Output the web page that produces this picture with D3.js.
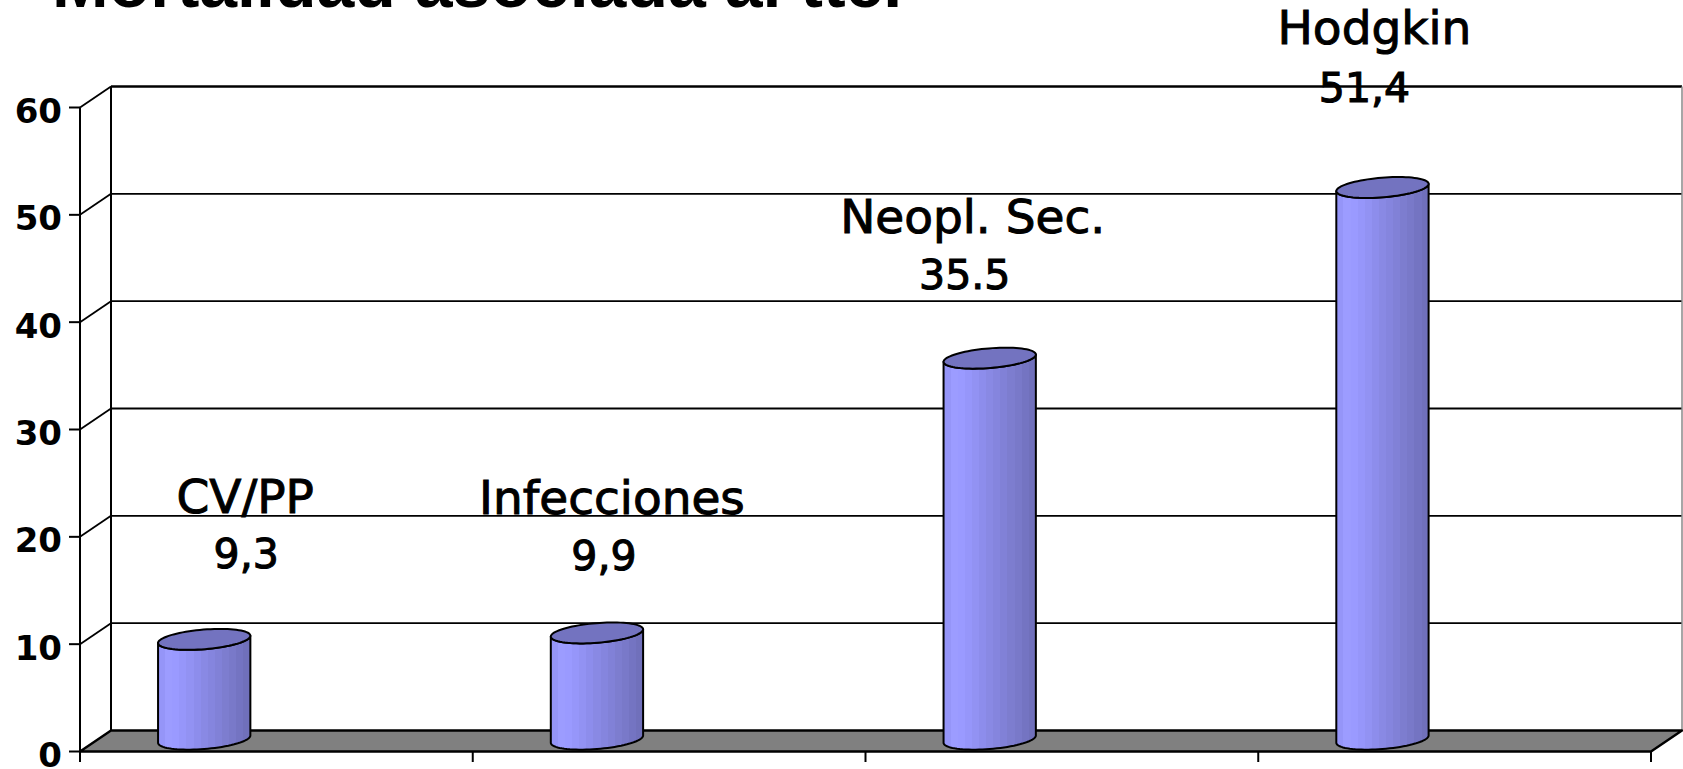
<!DOCTYPE html>
<html>
<head>
<meta charset="utf-8">
<script src="https://cdn.jsdelivr.net/npm/d3@7"></script>
<style>
  html, body { margin: 0; padding: 0; background: #ffffff; overflow: hidden; }
  svg { display: block; }
</style>
</head>
<body>
<svg id="chart" width="1683" height="769"></svg>
<script>
// ---------------- data ----------------
const categories = ["CV/PP", "Infecciones", "Neopl. Sec.", "Hodgkin"];
const values = [9.3, 9.9, 35.5, 51.4];
const valueLabels = ["9,3", "9,9", "35.5", "51,4"];
const yTicks = [0, 10, 20, 30, 40, 50, 60];
const titleText = "Mortalidad asociada al ttc.";

// ---------------- layout ----------------
const W = 1683, H = 769;
const frontL = 80, frontR = 1651;
const depthDX = 31, depthDY = -21;          // oblique offset of the back wall
const barDepth = 0.586;                      // bar axis position inside the depth
const barRX = 46.3, barRY = 9.8, barTilt = -4.7 * Math.PI / 180;
// manual label placement (nudges relative to bar centre / bar top), like the dragged Excel labels
const labelNudge = [
  { nx: 41, ny: -126, vx: 42, vy: -71 },
  { nx: 15, ny: -119, vx: 7,  vy: -63 },
  { nx: -17, ny: -125, vx: -25, vy: -69 },
  { nx: -8, ny: -144, vx: -18, vy: -86 }
];

const svg = d3.select("#chart");

const y = d3.scaleLinear().domain([0, 60]).range([751.5, 107.5]);
const x = d3.scaleBand().domain(categories).range([frontL, frontR]).padding(0);
const P = (xv, v, d) => [xv + d * depthDX, y(v) + d * depthDY];

// gradient for cylinder bodies (banded like the original)
const defs = svg.append("defs");
const grad = defs.append("linearGradient").attr("id", "cyl").attr("x1", 0).attr("x2", 1).attr("y1", 0).attr("y2", 0);
const bands = ["#9595f8", "#9c9cff", "#9a9aff", "#9696fa", "#9292f3", "#8d8dec", "#8989e4",
               "#8585de", "#8181d7", "#7d7dcf", "#7979c9", "#7474c2", "#7070bb"];
bands.forEach((c, k) => {
  grad.append("stop").attr("offset", k / bands.length).attr("stop-color", c);
  grad.append("stop").attr("offset", (k + 1) / bands.length).attr("stop-color", c);
});

// ---------------- walls ----------------
const wall = svg.append("g");
yTicks.forEach(v => {
  if (v > 0) {
    const a = P(frontL, v, 0), b = P(frontL, v, 1), c = P(frontR, v, 1);
    wall.append("line").attr("x1", a[0]).attr("y1", a[1]).attr("x2", b[0]).attr("y2", b[1])
      .attr("stroke", "#000").attr("stroke-width", 1.8);
    wall.append("line").attr("x1", b[0]).attr("y1", b[1]).attr("x2", c[0]).attr("y2", c[1])
      .attr("stroke", "#000").attr("stroke-width", v === 60 ? 2.6 : 1.8);
  }
});
{
  const a = P(frontL, 0, 1), b = P(frontL, 60, 1);
  wall.append("line").attr("x1", a[0]).attr("y1", a[1]).attr("x2", b[0]).attr("y2", b[1])
    .attr("stroke", "#000").attr("stroke-width", 2);
  const c = P(frontR, 0, 1), d = P(frontR, 60, 1);
  wall.append("line").attr("x1", c[0]).attr("y1", c[1]).attr("x2", d[0]).attr("y2", d[1])
    .attr("stroke", "#888").attr("stroke-width", 1.5);
}
{
  const pts = [P(frontL, 0, 0), P(frontR, 0, 0), P(frontR, 0, 1), P(frontL, 0, 1)];
  wall.append("polygon").attr("points", pts.map(p => p.join(",")).join(" "))
    .attr("fill", "#808080").attr("stroke", "#000").attr("stroke-width", 2.4)
    .attr("stroke-linejoin", "round");
}

// ---------------- cylinders ----------------
const cosT = Math.cos(barTilt), sinT = Math.sin(barTilt);
function ellPt(cx, cy, t) {
  const c = Math.cos(t), s = Math.sin(t);
  return [cx + barRX * c * cosT - barRY * s * sinT, cy + barRX * c * sinT + barRY * s * cosT];
}
const t0 = Math.atan(-(barRY * sinT) / (barRX * cosT));
const N = 40;
const lineGen = d3.line();
const bars = svg.append("g");
categories.forEach((cat, i) => {
  const cx = x(cat) + x.bandwidth() * 0.27 + barDepth * depthDX;
  const yb = y(0) + barDepth * depthDY;
  const yt = y(values[i]) + barDepth * depthDY;
  const body = [];
  body.push(ellPt(cx, yt, t0 + Math.PI));
  for (let k = 0; k <= N; k++) body.push(ellPt(cx, yb, t0 + Math.PI - Math.PI * k / N));
  for (let k = 0; k <= N; k++) body.push(ellPt(cx, yt, t0 + Math.PI * k / N));
  bars.append("path").attr("d", lineGen(body) + "Z")
    .attr("fill", "url(#cyl)").attr("stroke", "#000").attr("stroke-width", 2)
    .attr("stroke-linejoin", "round");
  const top = [];
  for (let k = 0; k <= 2 * N; k++) top.push(ellPt(cx, yt, Math.PI * k / N));
  bars.append("path").attr("d", lineGen(top) + "Z")
    .attr("fill", "#7373c0").attr("stroke", "#000").attr("stroke-width", 2);

  const nd = labelNudge[i];
  bars.append("text").attr("x", cx + nd.nx).attr("y", yt + nd.ny)
    .attr("text-anchor", "middle").attr("font-family", "DejaVu Sans")
    .attr("font-size", 47).attr("fill", "#000")
    .attr("stroke", "#000").attr("stroke-width", 1).text(cat);
  bars.append("text").attr("x", cx + nd.vx).attr("y", yt + nd.vy)
    .attr("text-anchor", "middle").attr("font-family", "DejaVu Sans")
    .attr("font-size", 41).attr("fill", "#000")
    .attr("stroke", "#000").attr("stroke-width", 1.1).text(valueLabels[i]);
});

// ---------------- axes ----------------
const ax = svg.append("g");
ax.append("line").attr("x1", frontL).attr("x2", frontL).attr("y1", y(60)).attr("y2", y(0) + 10.5)
  .attr("stroke", "#000").attr("stroke-width", 2);
yTicks.forEach(v => {
  ax.append("line").attr("x1", frontL - 11).attr("x2", frontL).attr("y1", y(v)).attr("y2", y(v))
    .attr("stroke", "#000").attr("stroke-width", 2);
  ax.append("text").attr("x", frontL - 18).attr("y", y(v) + 15.5)
    .attr("text-anchor", "end").attr("font-family", "DejaVu Sans").attr("font-weight", "bold")
    .attr("font-size", 34).attr("fill", "#000").text(v);
});
const catEdges = categories.map(c => x(c)).concat([frontR]);
catEdges.forEach(xe => {
  ax.append("line").attr("x1", xe).attr("x2", xe).attr("y1", y(0)).attr("y2", y(0) + 10.5)
    .attr("stroke", "#000").attr("stroke-width", 2);
});

// ---------------- title (cut off at the top, as in the original slide) ----------------
svg.append("text").attr("x", 52).attr("y", 7)
  .attr("font-family", "Liberation Sans, Arial, sans-serif").attr("font-weight", "bold")
  .attr("font-size", 68).attr("fill", "#000").text(titleText);
</script>
</body>
</html>
